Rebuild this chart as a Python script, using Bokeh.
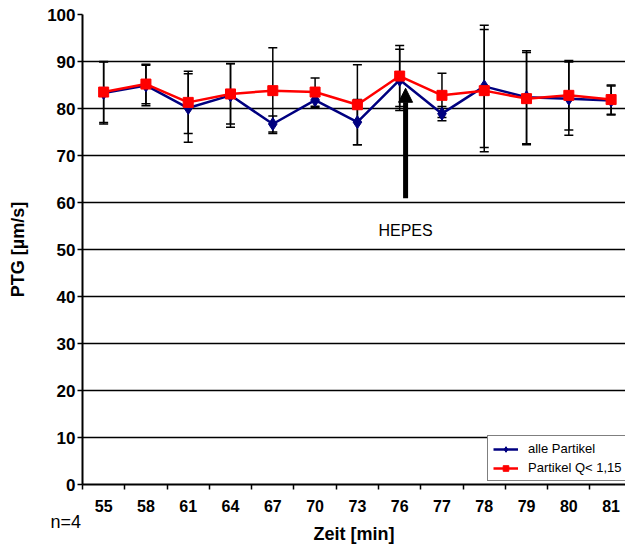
from bokeh.plotting import figure
from bokeh.models import (Range1d, FixedTicker, Whisker, TeeHead, ColumnDataSource,
                          Arrow, NormalHead, Label, Legend, LegendItem, Title)
from bokeh.embed import file_html
from bokeh.resources import INLINE

# ---- data ----
categories = ["55", "58", "61", "64", "67", "70", "73", "76", "77", "78", "79", "80", "81"]
alle_mean = [83.3, 84.9, 80.1, 82.8, 76.7, 81.8, 77.1, 86.1, 78.9, 84.7, 82.4, 82.1, 81.7]
alle_sd = [6.6, 4.3, 7.3, 6.8, 1.7, 1.6, 4.8, 6.5, 1.5, 13.0, 9.9, 7.8, 3.1]
q_mean = [83.5, 85.2, 81.3, 83.1, 83.8, 83.5, 80.8, 86.9, 82.8, 83.8, 82.1, 82.8, 81.9]
q_sd = [6.5, 4.2, 6.6, 6.4, 9.1, 3.0, 8.5, 6.5, 4.7, 13.0, 9.8, 7.4, 3.1]
y_ticks = [0, 10, 20, 30, 40, 50, 60, 70, 80, 90, 100]

FONT = "Liberation Sans"

xc = [i + 0.5 for i in range(len(categories))]

src_a = ColumnDataSource(dict(x=xc, y=alle_mean,
                              lo=[m - s for m, s in zip(alle_mean, alle_sd)],
                              hi=[m + s for m, s in zip(alle_mean, alle_sd)]))
src_q = ColumnDataSource(dict(x=xc, y=q_mean,
                              lo=[m - s for m, s in zip(q_mean, q_sd)],
                              hi=[m + s for m, s in zip(q_mean, q_sd)]))

p = figure(width=625, height=545, output_backend="svg", toolbar_location=None,
           x_range=Range1d(0, 12.84), y_range=Range1d(0, 100),
           min_border_left=82, min_border_right=0, min_border_top=14, min_border_bottom=61)
p.outline_line_color = None
p.background_fill_color = "white"

# grid
p.xgrid.visible = False
p.ygrid.grid_line_color = "black"
p.ygrid.grid_line_width = 1.5
p.ygrid.ticker = FixedTicker(ticks=y_ticks[1:])

# y axis
p.yaxis.ticker = FixedTicker(ticks=y_ticks)
p.yaxis.axis_line_width = 2
p.yaxis.axis_line_color = "black"
p.yaxis.major_tick_out = 5
p.yaxis.major_tick_in = 0
p.yaxis.major_tick_line_width = 1.5
p.yaxis.minor_tick_line_color = None
p.yaxis.major_label_text_font = FONT
p.yaxis.major_label_text_font_style = "bold"
p.yaxis.major_label_text_font_size = "17px"
p.yaxis.major_label_text_color = "black"
p.yaxis.major_label_standoff = 2
p.yaxis.axis_label = "PTG [µm/s]"
p.yaxis.axis_label_text_font = FONT
p.yaxis.axis_label_text_font_style = "bold"
p.yaxis.axis_label_text_font_size = "18px"
p.yaxis.axis_label_text_color = "black"
p.yaxis.axis_label_standoff = 16

# x axis
p.xaxis.ticker = FixedTicker(ticks=xc, minor_ticks=list(range(len(categories) + 1)))
p.xaxis.major_label_overrides = {x: c for x, c in zip(xc, categories)}
p.xaxis.axis_line_width = 2
p.xaxis.axis_line_color = "black"
p.xaxis.major_tick_line_color = None
p.xaxis.major_tick_out = 0
p.xaxis.major_tick_in = 0
p.xaxis.minor_tick_out = 5
p.xaxis.minor_tick_in = 0
p.xaxis.minor_tick_line_color = "black"
p.xaxis.minor_tick_line_width = 1.5
p.xaxis.major_label_text_font = FONT
p.xaxis.major_label_text_font_style = "bold"
p.xaxis.major_label_text_font_size = "16px"
p.xaxis.major_label_text_color = "black"
p.xaxis.major_label_standoff = 10

# error bars
for src in (src_a, src_q):
    w = Whisker(source=src, base="x", lower="lo", upper="hi",
                line_color="black", line_width=1.5,
                upper_head=TeeHead(size=9, line_color="black", line_width=1.5),
                lower_head=TeeHead(size=9, line_color="black", line_width=1.5))
    p.add_layout(w)

# series
la = p.line("x", "y", source=src_a, line_color="#000080", line_width=2.5)
sa = p.scatter("x", "y", source=src_a, marker="diamond", size=13,
               fill_color="#000080", line_color="#000080")
lq = p.line("x", "y", source=src_q, line_color="#FF0000", line_width=2.5)
sq = p.scatter("x", "y", source=src_q, marker="square", size=10,
               fill_color="#FF0000", line_color="#FF0000")

# arrow + annotation
ARROW_X = 7.64
p.add_layout(Arrow(x_start=ARROW_X, y_start=60.9, x_end=ARROW_X, y_end=84.3,
                   line_width=5, line_color="black",
                   end=NormalHead(size=14, fill_color="black", line_color="black")))
p.add_layout(Label(x=ARROW_X, y=54.0, text="HEPES", text_align="center",
                   text_baseline="middle", text_font=FONT, text_font_size="16px",
                   text_color="black"))

# bottom texts as stacked titles below the x axis
t_n = Title(text="n=4", align="left", offset=-32, vertical_align="middle", standoff=-8,
            text_font=FONT, text_font_size="18px", text_font_style="normal",
            text_color="black")
p.add_layout(t_n, "below")
t_z = Title(text="Zeit [min]", align="center", vertical_align="middle", standoff=-11,
            text_font=FONT, text_font_size="18px", text_font_style="bold",
            text_color="black")
p.add_layout(t_z, "below")

legend = Legend(items=[LegendItem(label="alle Partikel", renderers=[la, sa]),
                       LegendItem(label="Partikel Q< 1,15", renderers=[lq, sq])],
                location=(405, 3))
legend.label_text_font = FONT
legend.label_text_font_size = "13px"
legend.label_text_color = "black"
legend.glyph_width = 25
legend.glyph_height = 14
legend.label_height = 14
legend.spacing = 4
legend.padding = 5
legend.margin = 0
legend.label_standoff = 10
legend.border_line_color = "black"
legend.border_line_width = 1
legend.background_fill_color = "white"
legend.background_fill_alpha = 1
p.add_layout(legend)

open("out.html", "w").write(file_html(p, INLINE))
